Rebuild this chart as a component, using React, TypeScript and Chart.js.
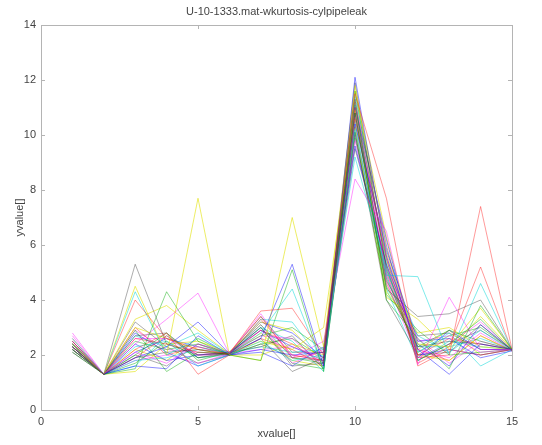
import React, { useEffect, useRef } from "react";
import { Chart, registerables } from "chart.js";

Chart.register(...registerables);

// Window index along the x axis
const xValues = [1, 2, 3, 4, 5, 6, 7, 8, 9, 10, 11, 12, 13, 14, 15];

// Weighted kurtosis per channel (one row per recorded channel)
const ch01 = [2.3, 1.3, 4.0, 2.6, 2.2, 2.05, 3.6, 3.7, 2.0, 11.5, 7.7, 1.9, 2.0, 7.4, 2.2];
const ch02 = [2.2, 1.3, 1.5, 4.3, 2.5, 2.0, 1.8, 5.1, 1.4, 11.3, 4.0, 2.6, 1.5, 3.8, 2.2];
const ch03 = [2.3, 1.3, 1.9, 2.3, 3.2, 2.05, 2.6, 5.3, 1.6, 12.1, 5.6, 2.2, 1.3, 2.4, 2.2];
const ch04 = [2.6, 1.3, 4.3, 2.0, 2.6, 2.05, 2.8, 4.4, 1.5, 10.2, 4.9, 4.85, 2.0, 4.6, 2.2];
const ch05 = [2.8, 1.3, 2.4, 3.3, 4.25, 2.05, 3.5, 1.9, 2.5, 8.4, 6.5, 1.65, 4.1, 2.2, 2.2];
const ch06 = [2.4, 1.3, 4.5, 2.0, 7.7, 2.0, 1.8, 7.0, 2.3, 11.8, 5.7, 2.4, 2.3, 3.7, 2.2];
const ch07 = [2.3, 1.3, 5.3, 2.4, 2.0, 2.05, 3.0, 1.6, 1.7, 10.8, 4.4, 3.4, 3.5, 4.0, 2.2];
const ch08 = [2.5, 1.3, 2.2, 2.8, 1.3, 2.0, 3.3, 2.0, 1.8, 11.0, 5.5, 1.7, 2.3, 5.2, 2.15];
const ch09 = [2.3, 1.3, 2.9, 1.4, 2.1, 2.05, 2.7, 3.0, 2.2, 10.8, 4.5, 2.3, 2.9, 2.5, 2.2];
const ch10 = [2.2, 1.3, 1.6, 1.5, 2.7, 2.0, 2.2, 2.0, 2.1, 10.4, 5.8, 2.5, 2.6, 1.9, 2.15];
const ch11 = [2.3, 1.3, 2.3, 2.5, 1.6, 2.0, 2.5, 1.8, 2.0, 9.2, 5.1, 2.1, 2.8, 1.6, 2.2];
const ch12 = [2.5, 1.3, 2.1, 1.7, 2.4, 2.1, 2.7, 2.6, 1.6, 10.7, 5.6, 2.2, 1.9, 2.8, 2.15];
const ch13 = [2.3, 1.3, 3.3, 3.8, 2.9, 2.05, 2.5, 2.2, 3.0, 10.9, 4.3, 2.8, 3.0, 2.3, 2.2];
const ch14 = [2.1, 1.3, 1.9, 2.1, 2.2, 2.0, 2.6, 1.4, 1.9, 11.9, 5.1, 2.3, 2.5, 2.4, 2.2];
const ch15 = [2.2, 1.3, 2.6, 2.4, 2.1, 2.05, 2.9, 2.4, 1.7, 10.6, 5.0, 2.0, 2.6, 2.4, 2.2];
const ch16 = [2.4, 1.3, 2.0, 2.8, 1.8, 2.1, 3.1, 1.9, 1.7, 11.6, 5.2, 1.8, 2.4, 3.3, 2.15];
const ch17 = [2.4, 1.3, 2.4, 1.8, 2.0, 2.1, 2.9, 2.3, 1.8, 11.0, 6.2, 1.9, 2.9, 2.2, 2.2];
const ch18 = [2.4, 1.3, 1.8, 1.9, 2.2, 2.1, 3.0, 2.5, 1.4, 11.1, 5.4, 2.7, 2.1, 2.9, 2.15];
const ch19 = [2.4, 1.3, 2.6, 2.6, 2.0, 2.0, 3.1, 1.7, 2.2, 11.3, 5.0, 2.5, 2.7, 2.1, 2.2];
const ch20 = [2.2, 1.3, 1.4, 2.4, 2.5, 2.1, 3.2, 2.9, 1.7, 11.6, 6.3, 2.0, 1.8, 2.7, 2.15];
const ch21 = [2.2, 1.3, 2.7, 2.8, 1.9, 2.1, 2.3, 2.7, 1.5, 10.1, 4.0, 2.0, 2.1, 3.1, 2.15];
const ch22 = [2.6, 1.3, 1.9, 2.7, 2.0, 2.1, 3.4, 1.9, 2.1, 11.2, 6.0, 1.6, 2.2, 2.0, 2.2];
const ch23 = [2.1, 1.3, 2.5, 2.2, 2.4, 2.0, 2.4, 2.6, 1.9, 10.1, 4.2, 2.9, 2.0, 2.1, 2.2];
const ch24 = [2.5, 1.3, 2.8, 2.1, 1.6, 2.0, 2.1, 1.6, 2.3, 9.6, 5.3, 2.4, 1.6, 3.1, 2.2];
const ch25 = [2.2, 1.3, 2.7, 2.3, 2.8, 2.05, 2.3, 2.1, 2.2, 10.5, 4.4, 1.8, 2.5, 2.3, 2.2];
const ch26 = [2.7, 1.3, 1.8, 2.0, 1.7, 2.05, 2.2, 2.3, 1.9, 9.8, 4.7, 1.9, 2.4, 3.2, 2.2];
const ch27 = [2.5, 1.3, 3.0, 2.6, 2.2, 2.0, 2.0, 2.4, 2.0, 10.3, 4.1, 3.3, 2.2, 3.4, 2.2];
const ch28 = [2.4, 1.3, 2.0, 1.6, 2.4, 2.05, 3.4, 2.1, 2.1, 11.1, 4.7, 2.7, 2.8, 2.2, 2.2];
const ch29 = [2.4, 1.3, 3.0, 2.0, 2.3, 2.0, 2.6, 2.2, 1.6, 10.3, 4.6, 2.2, 1.8, 2.7, 2.15];
const ch30 = [2.3, 1.3, 1.7, 2.5, 1.9, 2.05, 3.0, 1.7, 1.5, 9.9, 4.8, 2.1, 2.7, 3.0, 2.2];
const ch31 = [2.3, 1.3, 2.1, 2.6, 2.3, 2.05, 3.2, 2.8, 1.9, 10.9, 4.9, 2.0, 2.2, 2.0, 2.2];
const ch32 = [2.5, 1.3, 1.6, 2.7, 1.9, 2.0, 3.3, 3.2, 1.7, 11.4, 5.9, 2.3, 2.3, 2.6, 2.2];
const ch33 = [2.3, 1.3, 2.9, 2.2, 2.1, 2.0, 2.9, 2.0, 1.8, 10.0, 5.2, 2.6, 1.7, 2.5, 2.2];
const ch34 = [2.4, 1.3, 2.2, 1.8, 2.6, 2.0, 2.8, 1.8, 1.6, 10.6, 5.5, 2.2, 2.9, 2.0, 2.2];
const ch35 = [2.3, 1.3, 3.2, 2.3, 1.7, 2.0, 2.4, 1.9, 1.8, 9.5, 5.3, 1.8, 2.4, 2.9, 2.2];

const channels = [
  ch01, ch02, ch03, ch04, ch05, ch06, ch07,
  ch08, ch09, ch10, ch11, ch12, ch13, ch14,
  ch15, ch16, ch17, ch18, ch19, ch20, ch21,
  ch22, ch23, ch24, ch25, ch26, ch27, ch28,
  ch29, ch30, ch31, ch32, ch33, ch34, ch35,
];

// r g b c m y k colour cycle, faded
const lineColors = [
  "rgba(255,30,30,0.45)",
  "rgba(0,170,0,0.45)",
  "rgba(0,0,255,0.45)",
  "rgba(0,215,215,0.5)",
  "rgba(255,0,255,0.42)",
  "rgba(225,225,0,0.6)",
  "rgba(40,40,40,0.38)",
];

const xTicks = [0, 5, 10, 15];
const yTicks = [0, 2, 4, 6, 8, 10, 12, 14];

const titleText = "U-10-1333.mat-wkurtosis-cylpipeleak";
const xLabel = "xvalue[]";
const yLabel = "yvalue[]";

const FONT = "'Liberation Sans', Arial, sans-serif";
const AXIS_GREY = "#b4b4b4";
const TEXT_GREY = "#444";

// Box, inward ticks and labels in the figure style
const figurePlugin = {
  id: "figureFrame",
  afterDraw(chart: any) {
    const { ctx, chartArea: a, scales } = chart;
    const xs = scales.x;
    const ys = scales.y;
    ctx.save();
    ctx.strokeStyle = AXIS_GREY;
    ctx.lineWidth = 1;
    ctx.strokeRect(Math.round(a.left) + 0.5, Math.round(a.top) + 0.5, Math.round(a.right - a.left), Math.round(a.bottom - a.top));
    const tl = 4;
    ctx.beginPath();
    xTicks.forEach((v) => {
      const px = Math.round(xs.getPixelForValue(v)) + 0.5;
      ctx.moveTo(px, a.bottom);
      ctx.lineTo(px, a.bottom - tl);
      ctx.moveTo(px, a.top);
      ctx.lineTo(px, a.top + tl);
    });
    yTicks.forEach((v) => {
      const py = Math.round(ys.getPixelForValue(v)) + 0.5;
      ctx.moveTo(a.left, py);
      ctx.lineTo(a.left + tl, py);
      ctx.moveTo(a.right, py);
      ctx.lineTo(a.right - tl, py);
    });
    ctx.stroke();

    ctx.fillStyle = TEXT_GREY;
    ctx.font = `11px ${FONT}`;
    ctx.textAlign = "center";
    ctx.textBaseline = "middle";
    ctx.fillText(titleText, (a.left + a.right) / 2, 12);
    ctx.fillText(xLabel, (a.left + a.right) / 2, 434);
    ctx.translate(20, (a.top + a.bottom) / 2);
    ctx.rotate(-Math.PI / 2);
    ctx.fillText(yLabel, 0, 0);
    ctx.restore();
  },
};

export default function App() {
  const canvasRef = useRef<HTMLCanvasElement | null>(null);

  useEffect(() => {
    document.body.style.margin = "0";
    const canvas = canvasRef.current;
    if (!canvas) return;

    const datasets = channels.map((vals, i) => ({
      label: `ch${i + 1}`,
      data: xValues.map((x, j) => ({ x, y: vals[j] })),
      borderColor: lineColors[i % lineColors.length],
      backgroundColor: lineColors[i % lineColors.length],
      borderWidth: 1,
      pointRadius: 0,
      tension: 0,
      fill: false,
    }));

    const chart = new Chart(canvas, {
      type: "line",
      data: { datasets },
      plugins: [figurePlugin],
      options: {
        responsive: false,
        animation: false,
        maintainAspectRatio: false,
        layout: { padding: { left: 0, right: 30, top: 25, bottom: 0 } },
        plugins: {
          legend: { display: false },
          tooltip: { enabled: false },
          title: { display: false },
        },
        scales: {
          x: {
            type: "linear",
            min: 0,
            max: 15,
            afterBuildTicks: (s: any) => {
              s.ticks = xTicks.map((v) => ({ value: v }));
            },
            afterFit: (s: any) => {
              s.height = 35;
            },
            grid: { display: false, drawTicks: false },
            border: { display: false },
            ticks: {
              padding: 5,
              color: TEXT_GREY,
              font: { family: FONT, size: 11 },
              maxRotation: 0,
            },
          },
          y: {
            type: "linear",
            min: 0,
            max: 14,
            afterBuildTicks: (s: any) => {
              s.ticks = yTicks.map((v) => ({ value: v }));
            },
            afterFit: (s: any) => {
              s.width = 41;
            },
            grid: { display: false, drawTicks: false },
            border: { display: false },
            ticks: {
              padding: 5,
              color: TEXT_GREY,
              font: { family: FONT, size: 11 },
            },
          },
        },
      },
    } as any);

    return () => chart.destroy();
  }, []);

  return (
    <div style={{ width: 542, height: 445, background: "#fff" }}>
      <canvas ref={canvasRef} width={542} height={445} style={{ display: "block" }} />
    </div>
  );
}
